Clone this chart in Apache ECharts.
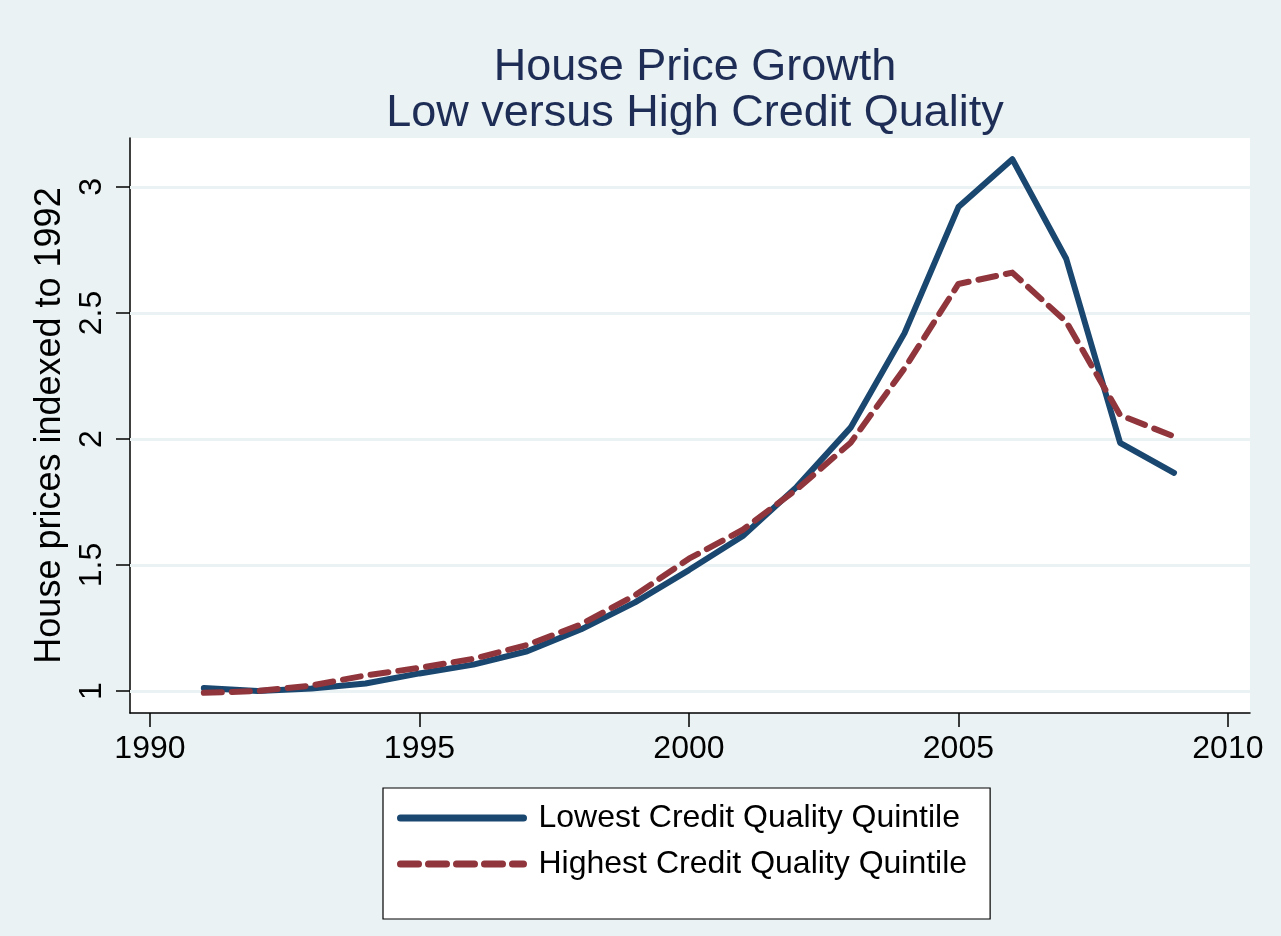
<!DOCTYPE html>
<html>
<head>
<meta charset="utf-8">
<script src="https://cdn.jsdelivr.net/npm/echarts@6/dist/echarts.min.js"></script>
<style>
  html, body { margin: 0; padding: 0; background: #eaf2f3; }
  #chart { width: 1281px; height: 936px; }
</style>
</head>
<body>
<div id="chart"></div>
<script>
// data
var years = [1991, 1992, 1993, 1994, 1995, 1996, 1997, 1998, 1999, 2000,
             2001, 2002, 2003, 2004, 2005, 2006, 2007, 2008, 2009];
var lowest = [1.012, 1.0, 1.01, 1.03, 1.07, 1.105, 1.158, 1.245, 1.352, 1.48,
              1.615, 1.81, 2.045, 2.42, 2.92, 3.11, 2.715, 1.985, 1.866];
var highest = [0.993, 1.0, 1.022, 1.062, 1.092, 1.128, 1.183, 1.265, 1.38, 1.525,
               1.64, 1.80, 1.985, 2.28, 2.615, 2.66, 2.465, 2.095, 2.01];
var xTicks = [1990, 1995, 2000, 2005, 2010];
var yTicks = [1, 1.5, 2, 2.5, 3];

var seriesNames = ['Lowest Credit Quality Quintile', 'Highest Credit Quality Quintile'];
var blue = '#1a476f';
var red = '#90353b';
var dash = [18, 10];

function pairs(vals) {
  return years.map(function (y, i) { return [y, vals[i]]; });
}

var font = 'Liberation Sans, Arial, sans-serif';
var chart = echarts.init(document.getElementById('chart'));

var option = {
  backgroundColor: '#eaf2f3',
  animation: false,
  title: {
    text: 'House Price Growth\nLow versus High Credit Quality',
    left: 690,
    textAlign: 'center',
    top: 40,
    textStyle: { color: '#1e2d55', fontSize: 45, fontWeight: 'normal', fontFamily: font, lineHeight: 46 }
  },
  grid: {
    left: 130, right: 31, top: 138, bottom: 223,
    show: true, backgroundColor: '#ffffff', borderWidth: 0
  },
  xAxis: {
    type: 'value',
    min: 1989.63,
    max: 2010.41,
    splitLine: { show: false },
    axisLine: { show: true, onZero: false, lineStyle: { color: '#000', width: 1.5 } },
    axisTick: { show: true, length: 14, customValues: xTicks, lineStyle: { color: '#000', width: 1.5 } },
    axisLabel: {
      customValues: xTicks, margin: 20, color: '#000', fontSize: 32, fontFamily: font,
      formatter: function (v) { return String(v); }
    }
  },
  yAxis: {
    type: 'value',
    min: 0.913,
    max: 3.194,
    name: 'House prices indexed to 1992',
    nameLocation: 'middle',
    nameRotate: 90,
    nameGap: 54,
    nameTextStyle: { color: '#000', fontSize: 36, fontFamily: font },
    splitLine: { show: false },
    axisLine: { show: true, onZero: false, lineStyle: { color: '#000', width: 1.5 } },
    axisTick: { show: true, length: 14, customValues: yTicks, lineStyle: { color: '#000', width: 1.5 } },
    axisLabel: { customValues: yTicks, rotate: 90, margin: 22, color: '#000', fontSize: 32, fontFamily: font }
  },
  legend: {
    orient: 'vertical',
    left: 383,
    top: 788,
    padding: [14, 23, 39, 14],
    itemGap: 14,
    itemWidth: 123,
    itemHeight: 32,
    backgroundColor: '#ffffff',
    borderColor: '#000',
    borderWidth: 1.2,
    borderRadius: 0,
    itemStyle: { opacity: 0 },
    textStyle: { color: '#000', fontSize: 32, fontFamily: font, padding: [0, 0, 0, 10] },
    data: [
      { name: seriesNames[0], lineStyle: { color: blue, width: 7, cap: 'round', type: 'solid' } },
      { name: seriesNames[1], lineStyle: { color: red, width: 7, cap: 'round', type: dash } }
    ]
  },
  series: [
    {
      name: seriesNames[0],
      type: 'line',
      data: pairs(lowest),
      symbol: 'none',
      z: 3,
      lineStyle: { color: blue, width: 6, cap: 'round', join: 'round' },
      itemStyle: { color: blue },
      markLine: {
        silent: true,
        symbol: 'none',
        label: { show: false },
        z: 1,
        lineStyle: { color: '#eaf2f3', width: 3, type: 'solid' },
        data: yTicks.map(function (v) { return { yAxis: v }; })
      }
    },
    {
      name: seriesNames[1],
      type: 'line',
      data: pairs(highest),
      symbol: 'none',
      z: 4,
      lineStyle: { color: red, width: 6, type: dash, cap: 'round', join: 'round' },
      itemStyle: { color: red }
    }
  ]
};

chart.setOption(option);
</script>
</body>
</html>
